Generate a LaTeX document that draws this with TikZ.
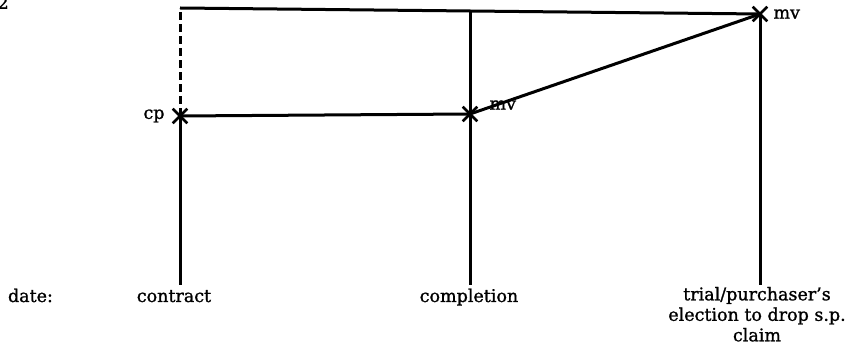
\documentclass[tikz,border=0pt]{standalone}
\usepackage{fontspec}
\setmainfont{DejaVu Serif}[BoldFont={DejaVu Serif},BoldFeatures={FakeBold=1.2}]
\usetikzlibrary{positioning,shapes.misc}

\begin{document}
\begin{tikzpicture}[x=1pt,y=-1pt,
  txt/.style={font=\fontsize{17.5}{20.5}\selectfont\bfseries,inner sep=0pt},
  fecha/.style={txt,outer sep=2pt,text height=15pt,text depth=4pt,anchor=base},
  marca/.style={draw,cross out,minimum size=12pt,inner sep=0pt,line width=2.6pt},
  ln/.style={line width=3pt},
  trazo/.style={ln,dash pattern=on 8pt off 4pt}]

  \useasboundingbox (0,0) rectangle (851,352);

  \node[marca] (cp)  at (180,116) {};
  \node[marca] (mv1) at (470,114) {};
  \node[marca] (mv2) at (760,14) {};
  \coordinate (esq) at (180,8);
  \coordinate (arr) at (470,11);

  \node[fecha,anchor=base west] (dat) at (6,302) {date:};
  \node[fecha] (con) at (174,302) {contract};
  \node[fecha] (com) at (469,302) {completion};
  \node[txt,align=center,anchor=north,outer sep=2pt] (tri) at (757,285)
    {trial/purchaser's\\election to drop s.p.\\claim};

  \node[txt,left=8pt of cp] (lcp) {cp};
  \node[txt,right=12pt of mv1,yshift=9pt] (lmv1) {mv};
  \node[txt,right=6pt of mv2] (lmv2) {mv};
  \node[txt,anchor=south east] (num) at (9,9) {2};

  \draw[ln] (con.north -| cp) -- (cp.center);
  \draw[ln] (com.north -| mv1) -- (mv1.center) -- (arr);
  \draw[ln] (tri.north -| mv2) -- (mv2.center);
  \draw[trazo] (cp.center) -- (esq);
  \draw[ln,line join=miter] (esq) -- (arr) -- (mv2.center);
  \draw[ln] (cp.center) -- (mv1.center) -- (mv2.center);
\end{tikzpicture}
\end{document}
